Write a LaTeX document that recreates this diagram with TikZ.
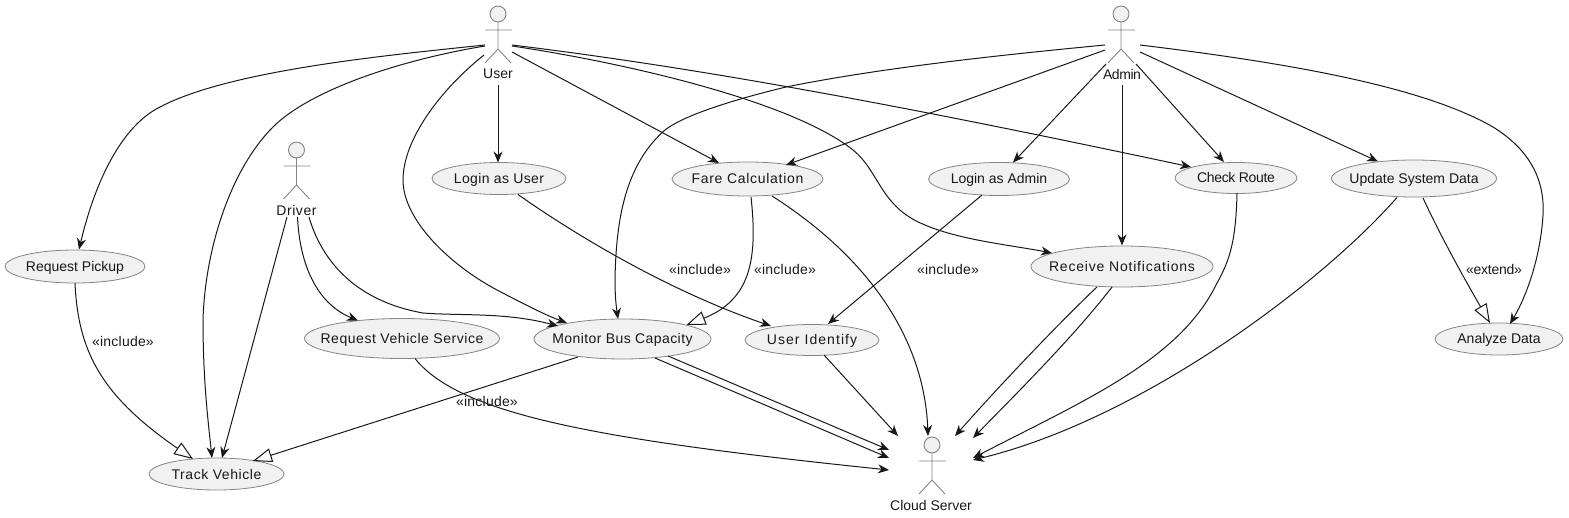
\documentclass[tikz,border=0pt]{standalone}
\usepackage{fontspec}
\setmainfont{Liberation Sans}
\usetikzlibrary{arrows.meta,shapes.geometric}
\definecolor{inkc}{HTML}{181818}
\definecolor{ucfill}{HTML}{F1F1F1}
\definecolor{ucline}{HTML}{848484}
\newcommand{\spaced}[2]{{\addfontfeature{LetterSpace=#1}#2}}
\newcommand{\uct}[2]{\makebox[0pt]{\spaced{#1}{#2}}}
\tikzset{
  x=1pt,y=-1pt,
  uc/.style={ellipse,draw=ucline,fill=ucfill,line width=0.8pt,inner sep=0pt,text=inkc,text height=12pt,text depth=2pt,font=\fontsize{14}{16}\selectfont},
  lbl/.style={text=inkc,inner sep=0pt,font=\fontsize{14}{16}\selectfont},
  actorbox/.style={inner sep=0pt,minimum width=28pt,minimum height=60pt},
  actorlbl/.style={text=inkc,inner sep=0pt,font=\fontsize{14}{16}\selectfont},
  actorpart/.style={draw=ucline,line width=0.9pt},
  conn/.style={draw=inkc,line width=1pt,-{Stealth[length=11pt,width=9pt,inset=3.5pt]}},
  gen/.style={draw=inkc,line width=1pt,-{Triangle[open,fill=white,length=19pt,width=14pt,line width=1pt]}},
  pics/actor/.style={code={
    \draw[actorpart,fill=ucfill] (0,-24) circle (8);
    \draw[actorpart] (-13,-8)--(14,-8) (0,-16)--(0,11) (-13,25)--(0,11)--(13,25);
  }},
}
\newcommand{\at}[3]{([shift={(#2,#3)}]#1.center)}
\begin{document}
\begin{tikzpicture}
\useasboundingbox (0,0) rectangle (1569,518);
% actors
\node[actorbox] (user) at (498,38) {}; \pic at (user.center) {actor};
\node[actorbox] (admin) at (1121,38) {}; \pic at (admin.center) {actor};
\node[actorbox] (driver) at (296.5,174) {}; \pic at (driver.center) {actor};
\node[actorbox] (cloud) at (932,469) {}; \pic at (cloud.center) {actor};
\node[actorlbl] (userl) at (498,74) {User};
\node[actorlbl] (adminl) at (1122,74) {\spaced{-3}{Admin}};
\node[actorlbl] (driverl) at (296.5,210) {\spaced{4}{Driver}};
\node[actorlbl] (cloudl) at (931,505) {Cloud Server};
% use cases
\node[uc,minimum width=140pt,minimum height=33pt] (pickup) at (75,266.5) {\uct{0}{Request Pickup}};
\node[uc,minimum width=134pt,minimum height=32pt] (loguser) at (499,178.5) {\uct{2.7}{Login as User}};
\node[uc,minimum width=151pt,minimum height=34pt] (fare) at (747.5,179) {\uct{5}{Fare Calculation}};
\node[uc,minimum width=141pt,minimum height=33pt] (logadmin) at (999,179) {\uct{0}{Login as Admin}};
\node[uc,minimum width=122pt,minimum height=31pt] (route) at (1236,178) {\uct{-2.6}{Check Route}};
\node[uc,minimum width=165pt,minimum height=37pt] (update) at (1414,178.5) {\uct{0}{Update System Data}};
\node[uc,minimum width=182pt,minimum height=41pt] (notif) at (1122,266.5) {\uct{5.7}{Receive Notifications}};
\node[uc,minimum width=195pt,minimum height=40pt] (reqveh) at (402,338.5) {\uct{4}{Request Vehicle Service}};
\node[uc,minimum width=177pt,minimum height=40pt] (monitor) at (622.5,339) {\uct{3}{Monitor Bus Capacity}};
\node[uc,minimum width=134pt,minimum height=31pt] (identify) at (812,340) {\uct{7.6}{User Identify}};
\node[uc,minimum width=135pt,minimum height=32pt] (track) at (216.5,474) {\uct{4}{Track Vehicle}};
\node[uc,minimum width=128pt,minimum height=32pt] (analyze) at (1499,339) {\uct{0}{Analyze Data}};
% labels
\node[lbl] (l1) at (123,341) {\spaced{1.5}{«include»}};
\node[lbl] (l2) at (700,269) {\spaced{1.5}{«include»}};
\node[lbl] (l3) at (785,269) {\spaced{1.5}{«include»}};
\node[lbl] (l4) at (948,269) {\spaced{1.5}{«include»}};
\node[lbl] (l5) at (487,401) {\spaced{1.5}{«include»}};
\node[lbl] (l6) at (1494,269) {\spaced{-2}{«extend»}};
% connectors from User
\draw[conn] \at{user}{-13}{7} .. controls (390,55) and (230,70) .. (160,107) .. controls (118,128) and (93,190) .. \at{pickup}{4}{-17};
\draw[conn] \at{user}{-13}{8} .. controls (400,60) and (310,90) .. (273,127) .. controls (230,170) and (205,250) .. (203,320) .. controls (203,380) and (208,420) .. \at{track}{-4.5}{-16};
\draw[conn] \at{user}{-14}{17} .. controls (440,90) and (403,140) .. (403,180) .. controls (403,220) and (450,265) .. (497,290) .. controls (520,302) and (545,315) .. \at{monitor}{-55.5}{-16};
\draw[conn] (userl.south) ++(0,6) -- \at{loguser}{-1}{-16};
\draw[conn] \at{user}{14}{14} -- \at{fare}{-28.5}{-16};
\draw[conn] \at{user}{14}{7} .. controls (700,68) and (900,105) .. \at{route}{-45}{-11};
\draw[conn] \at{user}{14}{8} .. controls (620,62) and (790,100) .. (853,150) .. controls (880,172) and (880,207) .. (925,225) .. controls (960,240) and (1010,245) .. \at{notif}{-70}{-13.5};
% Driver
\draw[conn] \at{driver}{-9.5}{43} -- \at{track}{5.5}{-16};
\draw[conn] \at{driver}{1}{43} .. controls (300,270) and (320,305) .. \at{reqveh}{-44}{-18};
\draw[conn] \at{driver}{12.5}{43} .. controls (320,255) and (350,300) .. (423,313) .. controls (460,316) and (505,312) .. \at{monitor}{-64.5}{-13};
% Login as User, Fare
\draw[conn] \at{loguser}{19}{16} .. controls (590,245) and (680,295) .. \at{identify}{-41}{-14};
\draw[gen] \at{fare}{3.5}{18} .. controls (758,260) and (750,300) .. \at{monitor}{64}{-14};
\draw[conn] \at{fare}{24.5}{17} .. controls (880,265) and (925,350) .. \at{cloud}{-4}{-33};
\draw[conn] \at{logadmin}{-17}{16} -- \at{identify}{16}{-16};
% Admin
\draw[conn] \at{admin}{-16}{7} .. controls (1000,55) and (880,68) .. (786,87) .. controls (720,103) and (680,118) .. (665,130) .. controls (625,165) and (616,220) .. (615,280) .. controls (615,295) and (616,305) .. \at{monitor}{-4.5}{-20};
\draw[conn] \at{admin}{-16}{12} -- \at{fare}{38.5}{-14};
\draw[conn] \at{admin}{-15}{26} -- \at{logadmin}{14}{-16.5};
\draw[conn] (adminl.south) ++(0,6) -- \at{notif}{0}{-21};
\draw[conn] \at{admin}{15}{26} -- \at{route}{-12}{-16};
\draw[conn] \at{admin}{19}{14} -- \at{update}{-36}{-17};
\draw[conn] \at{admin}{19}{7} .. controls (1280,62) and (1420,85) .. (1493,127) .. controls (1530,150) and (1545,180) .. (1543,215) .. controls (1541,250) and (1530,290) .. \at{analyze}{11}{-15};
% Update etc
\draw[gen] \at{update}{9}{19.5} .. controls (1440,235) and (1465,280) .. \at{analyze}{-9}{-16};
\draw[conn] \at{update}{-17}{19} .. controls (1320,285) and (1140,420) .. \at{cloud}{41}{-9};
\draw[conn] \at{route}{1}{15} .. controls (1236,240) and (1230,260) .. (1217,283) .. controls (1180,360) and (1085,400) .. \at{cloud}{41}{-11};
\draw[conn] \at{notif}{-25}{20.5} .. controls (1060,322) and (1000,385) .. \at{cloud}{23}{-33};
\draw[conn] \at{notif}{-10}{20.5} .. controls (1075,335) and (1020,390) .. \at{cloud}{41}{-31};
% Monitor
\draw[conn] \at{monitor}{32.5}{19} -- \at{cloud}{-43}{-11};
\draw[conn] \at{monitor}{45.5}{17} -- \at{cloud}{-43}{-19};
\draw[conn] \at{reqveh}{13}{20} .. controls (460,415) and (600,440) .. \at{cloud}{-43}{1};
\draw[conn] \at{identify}{12}{15} -- \at{cloud}{-34}{-33};
\draw[gen] \at{pickup}{0}{16.5} .. controls (78,350) and (100,395) .. \at{track}{-23.5}{-15};
\draw[gen] \at{monitor}{-44.5}{18} -- \at{track}{36.5}{-13};
\end{tikzpicture}
\end{document}
